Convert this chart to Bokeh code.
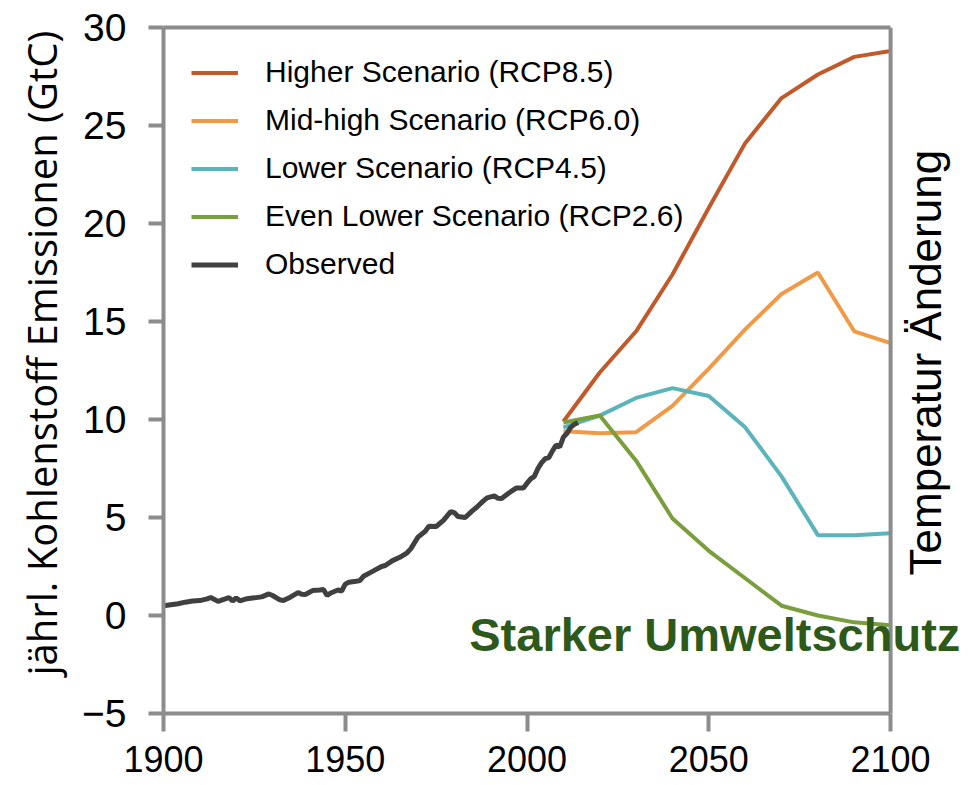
import math
from bokeh.plotting import figure
from bokeh.models import (Legend, LegendItem, LinearAxis, FixedTicker, Label, Range1d,
                          Span, Title)
from bokeh.embed import file_html
from bokeh.resources import INLINE

# ---------------- data ----------------
obs_years = [1900, 1902, 1904, 1906, 1908, 1910, 1912, 1913, 1915, 1917, 1918, 1919,
             1920, 1921, 1923, 1925, 1927, 1929, 1930, 1932, 1933, 1935, 1937, 1938,
             1939, 1941, 1943, 1944, 1945, 1946, 1948, 1949, 1950, 1951, 1953, 1954,
             1955, 1957, 1958, 1960, 1961, 1963, 1965, 1967, 1968, 1969, 1970, 1972,
             1973, 1975, 1977, 1979, 1980, 1981, 1983, 1985, 1986, 1988, 1989, 1990,
             1991, 1992, 1993, 1995, 1997, 1999, 2000, 2001, 2002, 2003, 2004, 2005,
             2006, 2007, 2008, 2009, 2010, 2011, 2012, 2013, 2014]
obs_values = [0.50, 0.55, 0.60, 0.68, 0.74, 0.76, 0.85, 0.92, 0.72, 0.85, 0.92, 0.74,
              0.90, 0.75, 0.86, 0.90, 0.95, 1.10, 1.02, 0.80, 0.77, 0.95, 1.17, 1.08,
              1.07, 1.27, 1.30, 1.33, 1.02, 1.15, 1.30, 1.25, 1.60, 1.70, 1.75, 1.78,
              2.00, 2.20, 2.30, 2.50, 2.55, 2.80, 2.97, 3.20, 3.40, 3.70, 4.00, 4.30,
              4.55, 4.54, 4.85, 5.30, 5.25, 5.05, 5.00, 5.35, 5.50, 5.85, 6.00, 6.05,
              6.10, 5.98, 5.97, 6.25, 6.50, 6.50, 6.75, 6.97, 7.10, 7.50, 7.80, 8.00,
              8.06, 8.40, 8.70, 8.60, 9.10, 9.30, 9.60, 9.75, 9.85]

scen_years = [2010, 2020, 2030, 2040, 2050, 2060, 2070, 2080, 2090, 2100]
rcp85 = [9.9, 12.4, 14.5, 17.4, 20.8, 24.1, 26.4, 27.6, 28.5, 28.8]
rcp60 = [9.4, 9.3, 9.35, 10.7, 12.6, 14.6, 16.4, 17.5, 14.5, 13.9]
rcp45 = [9.6, 10.2, 11.1, 11.6, 11.2, 9.6, 7.1, 4.1, 4.1, 4.2]
rcp26 = [9.85, 10.2, 7.9, 4.95, 3.3, 1.9, 0.5, 0.0, -0.35, -0.5]

series_names = ["Higher Scenario (RCP8.5)", "Mid-high Scenario (RCP6.0)",
                "Lower Scenario (RCP4.5)", "Even Lower Scenario (RCP2.6)", "Observed"]
series_colors = ["#c1592a", "#f09a48", "#5ab4b9", "#7a9e3c", "#404040"]

x_ticks = [1900, 1950, 2000, 2050, 2100]
y_ticks = [-5, 0, 5, 10, 15, 20, 25, 30]
x_start, x_end = 1900, 2100
y_start, y_end = -5, 30

AX = "#8c8c8c"

# frame runs past 2100 (to the page edge) so the annotation text can extend there
x_view_end = x_start + (968 - 162) / 728 * (x_end - x_start)

p = figure(width=968, height=785, output_backend="svg", toolbar_location=None,
           x_range=Range1d(x_start, x_view_end), y_range=Range1d(y_start, y_end),
           min_border_left=162, min_border_right=0, min_border_top=27,
           min_border_bottom=72, background_fill_color="white",
           border_fill_color="white")
p.grid.visible = False
p.outline_line_color = None

r85 = p.line(scen_years, rcp85, line_color=series_colors[0], line_width=4)
r60 = p.line(scen_years, rcp60, line_color=series_colors[1], line_width=4)
r45 = p.line(scen_years, rcp45, line_color=series_colors[2], line_width=4)
r26 = p.line(scen_years, rcp26, line_color=series_colors[3], line_width=4)
rob = p.line(obs_years, obs_values, line_color=series_colors[4], line_width=5)

# axes
for ax in (p.xaxis[0], p.yaxis[0]):
    ax.axis_line_color = AX
    ax.axis_line_width = 4
    ax.major_tick_line_color = AX
    ax.major_tick_line_width = 4
    ax.major_tick_in = 0
    ax.minor_tick_line_color = None
    ax.major_label_text_color = "black"

p.xaxis.ticker = FixedTicker(ticks=x_ticks)
p.xaxis.bounds = (x_start, x_end)
p.xaxis.major_tick_out = 18
p.xaxis.major_label_text_font = "Liberation Sans"
p.xaxis.major_label_text_font_size = "36px"
p.xaxis.major_label_standoff = 14

p.yaxis.ticker = FixedTicker(ticks=y_ticks)
p.yaxis.major_tick_out = 15
p.yaxis.major_label_text_font = "Liberation Sans"
p.yaxis.major_label_text_font_size = "39px"
p.yaxis.major_label_standoff = 22
p.yaxis.major_label_overrides = {-5: "\u22125"}

# y title as a side title so it can sit off-centre like the original
p.add_layout(Title(text="jährl. Kohlenstoff Emissionen (GtC)", align="left", offset=38,
                   text_font="Open Sans", text_font_style="normal",
                   text_font_size="40px", text_color="black", standoff=22), "left")

# top border of the box
top = LinearAxis(ticker=FixedTicker(ticks=[]), bounds=(x_start, x_end),
                 axis_line_color=AX, axis_line_width=4,
                 major_tick_line_color=None, minor_tick_line_color=None)
p.add_layout(top, "above")
# right border of the box at 2100
p.add_layout(Span(location=x_end, dimension="height", line_color=AX, line_width=4))

legend = Legend(items=[LegendItem(label=series_names[0], renderers=[r85]),
                       LegendItem(label=series_names[1], renderers=[r60]),
                       LegendItem(label=series_names[2], renderers=[r45]),
                       LegendItem(label=series_names[3], renderers=[r26]),
                       LegendItem(label=series_names[4], renderers=[rob])],
                location="top_left", margin=28, padding=0,
                spacing=14, glyph_width=47, glyph_height=33, label_height=33,
                label_standoff=27, label_text_font="Liberation Sans",
                label_text_font_size="30px", label_text_color="black",
                border_line_color=None, background_fill_alpha=0)
p.add_layout(legend)

p.add_layout(Label(x=1984.1, y=-0.97, text="Starker Umweltschutz",
                   text_font="Liberation Sans", text_font_style="bold",
                   text_font_size="47px", text_color="#2d5a1b",
                   text_align="left", text_baseline="alphabetic"))
p.add_layout(Label(x=2109.6, y=12.9, text="Temperatur Änderung", angle=math.pi / 2,
                   text_font="Liberation Sans", text_font_size="44px", text_color="black",
                   text_align="center", text_baseline="middle"))

open("out.html", "w").write(file_html(p, INLINE))
